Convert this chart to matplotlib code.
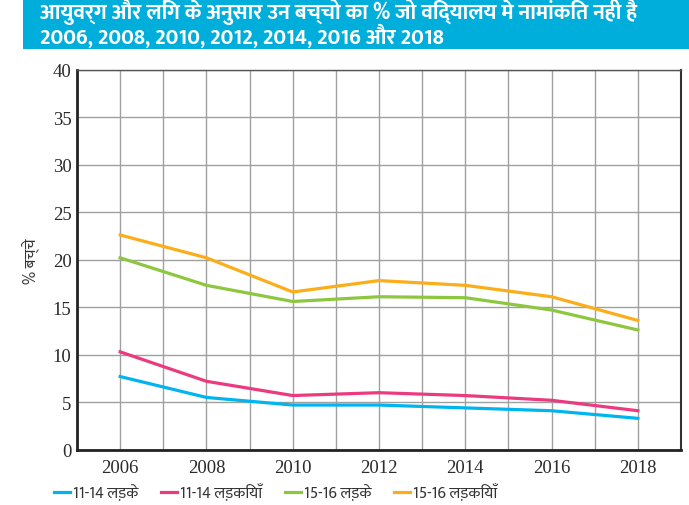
import matplotlib
matplotlib.use("Agg")
import matplotlib.pyplot as plt
from matplotlib.patches import Rectangle

years = [2006, 2008, 2010, 2012, 2014, 2016, 2018]
boys_11_14 = [7.7, 5.5, 4.7, 4.7, 4.4, 4.1, 3.3]
girls_11_14 = [10.3, 7.2, 5.7, 6.0, 5.7, 5.2, 4.1]
boys_15_16 = [20.2, 17.3, 15.6, 16.1, 16.0, 14.7, 12.6]
girls_15_16 = [22.6, 20.2, 16.6, 17.8, 17.3, 16.1, 13.6]
series_labels = ["11-14 लड़के", "11-14 लड़कियाँ", "15-16 लड़के", "15-16 लड़कियाँ"]
colors = ["#00b5ef", "#ec3a7f", "#8dc63f", "#fbad1a"]
title_lines = ["आयुवर्ग और लिंग के अनुसार उन बच्चो का % जो विद्यालय मे नामांकित नही है",
               "2006, 2008, 2010, 2012, 2014, 2016 और 2018"]
ylabel = "% बच्चे"

hindi = ["Mukta", "Noto Sans Devanagari", "Hind", "DejaVu Sans"]
serif = ["Liberation Serif", "DejaVu Serif"]

fig = plt.figure(figsize=(6.89, 5.06), dpi=100)
ax = fig.add_axes([0.1118, 0.1093, 0.8766, 0.751])

for vals, lab, c in zip([boys_11_14, girls_11_14, boys_15_16, girls_15_16], series_labels, colors):
    ax.plot(years, vals, color=c, lw=2.3, label=lab, solid_joinstyle="miter")

ax.set_xlim(2005, 2019)
ax.set_ylim(0, 40)
ax.set_xticks(years)
ax.set_xticks(range(2005, 2020, 2), minor=True)
ax.set_yticks(range(0, 41, 5))
ax.grid(True, which="both", color="#a0a0a0", lw=1.0)
ax.set_axisbelow(True)
ax.tick_params(which="both", length=0)
ax.tick_params(axis="x", pad=7)
ax.tick_params(axis="y", pad=4)
for lbl in ax.get_xticklabels() + ax.get_yticklabels():
    lbl.set_family(serif)
    lbl.set_fontsize(13.5)
    lbl.set_color("#2a2a2a")
for side in ["left", "bottom"]:
    ax.spines[side].set_linewidth(2.0)
    ax.spines[side].set_color("#222222")
ax.spines["right"].set_linewidth(1.5)
ax.spines["right"].set_color("#333333")
ax.spines["top"].set_linewidth(1.0)
ax.spines["top"].set_color("#555555")

ax.set_ylabel(ylabel, family=hindi, fontsize=11.5, color="#333333", labelpad=9)

# title band
fig.patches.append(Rectangle((0.0334, 0.901), 0.97, 0.1, transform=fig.transFigure,
                             facecolor="#00aedb", edgecolor="none", zorder=0))
fig.text(0.058, 0.977, title_lines[0], family=hindi, fontsize=15.5, fontweight="bold",
         color="white", va="center", ha="left")
fig.text(0.058, 0.928, title_lines[1], family=hindi, fontsize=15.5, fontweight="bold",
         color="white", va="center", ha="left")

fig.legend(loc="center", bbox_to_anchor=(0.40, 0.025), ncol=4, frameon=False,
           prop={"family": hindi, "size": 11.5}, handlelength=1.0, handletextpad=0.2,
           columnspacing=1.4, labelcolor="#333333")

fig.savefig("out.png", dpi=100)
